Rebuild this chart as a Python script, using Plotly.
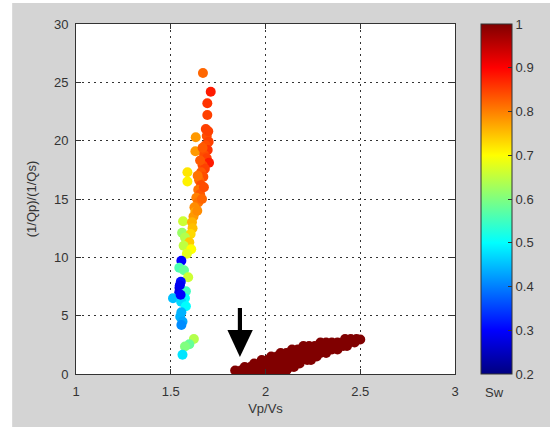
import plotly.graph_objects as go

# Column of partially saturated points (Vp/Vs, ratio, Sw)
col_x = [1.670, 1.711, 1.693, 1.693, 1.685, 1.690, 1.632, 1.700, 1.683, 1.695,
         1.630, 1.676, 1.690, 1.702, 1.668, 1.680, 1.660, 1.672, 1.588, 1.588,
         1.650, 1.660, 1.645, 1.655, 1.635, 1.645, 1.625, 1.630, 1.620, 1.565,
         1.612, 1.615, 1.560, 1.605, 1.575, 1.598, 1.568, 1.608, 1.585, 1.556,
         1.545, 1.570, 1.592, 1.553, 1.546, 1.545, 1.580, 1.512, 1.575, 1.555,
         1.580, 1.556, 1.550, 1.562, 1.556, 1.622, 1.598, 1.575, 1.562,
         1.698, 1.668, 1.655, 1.642, 1.675, 1.665, 1.640, 1.548, 1.552]
col_y = [25.8, 24.2, 23.2, 22.2, 21.0, 20.4, 20.3, 19.9, 19.6, 19.2,
         19.1, 18.8, 18.5, 18.1, 17.9, 17.6, 17.3, 16.9, 17.3, 16.5,
         16.6, 16.2, 15.8, 15.4, 15.1, 14.7, 14.3, 13.9, 13.5, 13.1,
         13.0, 12.5, 12.1, 12.0, 11.7, 11.3, 11.0, 10.7, 10.3, 9.7,
         9.1, 8.9, 8.3, 7.9, 7.4, 7.0, 7.1, 6.5, 6.5, 6.2,
         5.8, 5.3, 4.9, 4.5, 4.2, 3.0, 2.55, 2.35, 1.65,
         20.8, 19.4, 18.3, 17.0, 16.0, 15.0, 14.0, 7.6, 6.8]
col_sw = [0.82, 0.88, 0.86, 0.85, 0.85, 0.84, 0.78, 0.85, 0.84, 0.86,
          0.78, 0.84, 0.85, 0.88, 0.84, 0.85, 0.83, 0.84, 0.72, 0.71,
          0.82, 0.84, 0.81, 0.83, 0.80, 0.81, 0.79, 0.77, 0.78, 0.66,
          0.76, 0.75, 0.62, 0.73, 0.64, 0.74, 0.65, 0.70, 0.68, 0.30,
          0.56, 0.58, 0.66, 0.31, 0.27, 0.28, 0.55, 0.45, 0.50, 0.47,
          0.50, 0.44, 0.44, 0.43, 0.41, 0.64, 0.58, 0.60, 0.48,
          0.85, 0.83, 0.83, 0.81, 0.84, 0.82, 0.79, 0.29, 0.30]

# Fully saturated band (Sw = 1)
band_x = [1.84, 1.87, 1.90, 1.93, 1.96, 1.99, 2.02, 2.05, 2.08, 2.11,
          1.89, 1.92, 1.95, 1.98, 2.01, 2.04, 2.07, 2.10, 2.13, 2.15,
          1.94, 1.97, 2.00, 2.03, 2.06, 2.09, 2.12, 2.15, 2.18,
          1.98, 2.01, 2.04, 2.07, 2.10, 2.13, 2.16, 2.19, 2.22, 2.24,
          2.03, 2.06, 2.09, 2.12, 2.15, 2.18, 2.21, 2.24, 2.27,
          2.08, 2.11, 2.14, 2.17, 2.20, 2.23, 2.26, 2.29, 2.32,
          2.14, 2.17, 2.20, 2.23, 2.26, 2.29, 2.32, 2.35, 2.38,
          2.20, 2.23, 2.26, 2.29, 2.32, 2.35, 2.38, 2.41, 2.43,
          2.29, 2.32, 2.35, 2.38, 2.41, 2.44, 2.47,
          2.42, 2.45, 2.48, 2.50,
          1.95]
band_y = [0.3, 0.3, 0.3, 0.3, 0.3, 0.3, 0.3, 0.3, 0.3, 0.3,
          0.6, 0.6, 0.6, 0.6, 0.6, 0.6, 0.6, 0.6, 0.6, 0.6,
          0.9, 0.9, 0.9, 0.9, 0.9, 0.9, 0.9, 0.9, 0.9,
          1.2, 1.2, 1.2, 1.2, 1.2, 1.2, 1.2, 1.2, 1.2, 1.2,
          1.5, 1.5, 1.5, 1.5, 1.5, 1.5, 1.5, 1.5, 1.5,
          1.8, 1.8, 1.8, 1.8, 1.8, 1.8, 1.8, 1.8, 1.8,
          2.1, 2.1, 2.1, 2.1, 2.1, 2.1, 2.1, 2.1, 2.1,
          2.4, 2.4, 2.4, 2.4, 2.4, 2.4, 2.4, 2.4, 2.4,
          2.7, 2.7, 2.7, 2.7, 2.7, 2.7, 2.7,
          3.0, 3.0, 3.0, 2.95,
          0.05]
band_sw = [1.0] * len(band_x)

x_ticks = [1, 1.5, 2, 2.5, 3]
x_ticktext = ["1", "1.5", "2", "2.5", "3"]
y_ticks = [0, 5, 10, 15, 20, 25, 30]
cb_ticks = [0.2, 0.3, 0.4, 0.5, 0.6, 0.7, 0.8, 0.9, 1.0]
cb_ticktext = ["0.2", "0.3", "0.4", "0.5", "0.6", "0.7", "0.8", "0.9", "1"]

jet = [[0.0, "rgb(0,0,128)"], [0.125, "rgb(0,0,255)"], [0.375, "rgb(0,255,255)"],
       [0.625, "rgb(255,255,0)"], [0.875, "rgb(255,0,0)"], [1.0, "rgb(128,0,0)"]]

FONT = "Liberation Sans"
TXT = "#333333"

fig = go.Figure()
fig.add_trace(go.Scatter(x=band_x, y=band_y, mode="markers",
                         marker=dict(size=10, color=band_sw, coloraxis="coloraxis", line=dict(width=0)),
                         showlegend=False, hoverinfo="skip"))
fig.add_trace(go.Scatter(x=col_x, y=col_y, mode="markers",
                         marker=dict(size=10, color=col_sw, coloraxis="coloraxis", line=dict(width=0)),
                         showlegend=False, hoverinfo="skip"))

axis_common = dict(showline=True, linecolor="#333333", linewidth=1, mirror="ticks",
                   ticks="inside", ticklen=5, tickcolor="#333333",
                   showgrid=True, gridcolor="#333333", gridwidth=1, griddash="2px,4px",
                   zeroline=False, tickfont=dict(family=FONT, size=13, color=TXT))

fig.update_layout(
    width=550, height=427, autosize=False,
    margin=dict(l=76, r=94, t=24, b=53),
    paper_bgcolor="#d4d4d4", plot_bgcolor="white",
    font=dict(family=FONT, color=TXT),
    xaxis=dict(range=[1, 3], tickvals=x_ticks, ticktext=x_ticktext, ticklabelstandoff=5,
               title=dict(text="Vp/Vs", font=dict(family=FONT, size=13, color=TXT), standoff=6),
               **axis_common),
    yaxis=dict(range=[0, 30], tickvals=y_ticks, ticklabelstandoff=4,
               title=dict(text="(1/Qp)/(1/Qs)", font=dict(family=FONT, size=13, color=TXT), standoff=14),
               **axis_common),
    coloraxis=dict(colorscale=jet, cmin=0.2, cmax=1.0,
                   colorbar=dict(x=(481 - 76) / 380, xanchor="left", xref="paper",
                                 y=0.5, yanchor="middle", len=1.0, lenmode="fraction",
                                 thickness=31, thicknessmode="pixels",
                                 outlinecolor="#333333", outlinewidth=1,
                                 ticks="inside", ticklen=4, tickcolor="#333333",
                                 tickvals=cb_ticks, ticktext=cb_ticktext,
                                 tickfont=dict(family=FONT, size=13, color=TXT),
                                 xpad=0, ypad=0)),
    shapes=[
        dict(type="rect", xref="paper", yref="paper", x0=-0.21, x1=(12 - 76) / 380,
             y0=-0.2, y1=1.1, fillcolor="white", line=dict(width=0), layer="below"),
        dict(type="rect", xref="paper", yref="paper", x0=-0.21, x1=1.3,
             y0=(374 - 3) / 350, y1=1.1, fillcolor="white", line=dict(width=0), layer="below"),
        dict(type="rect", xref="x", yref="y", x0=1.854, x1=1.876, y0=3.6, y1=5.66,
             fillcolor="black", line=dict(width=0)),
        dict(type="path", xref="x", yref="y", path="M 1.799,3.77 L 1.933,3.77 L 1.865,1.45 Z",
             fillcolor="black", line=dict(width=0)),
    ],
    annotations=[
        dict(text="Sw", xref="paper", yref="paper", x=(496 - 76) / 380, y=(374 - 392) / 350,
             showarrow=False, font=dict(family=FONT, size=13, color=TXT),
             xanchor="center", yanchor="middle"),
    ],
)

fig.write_html("out.html")
